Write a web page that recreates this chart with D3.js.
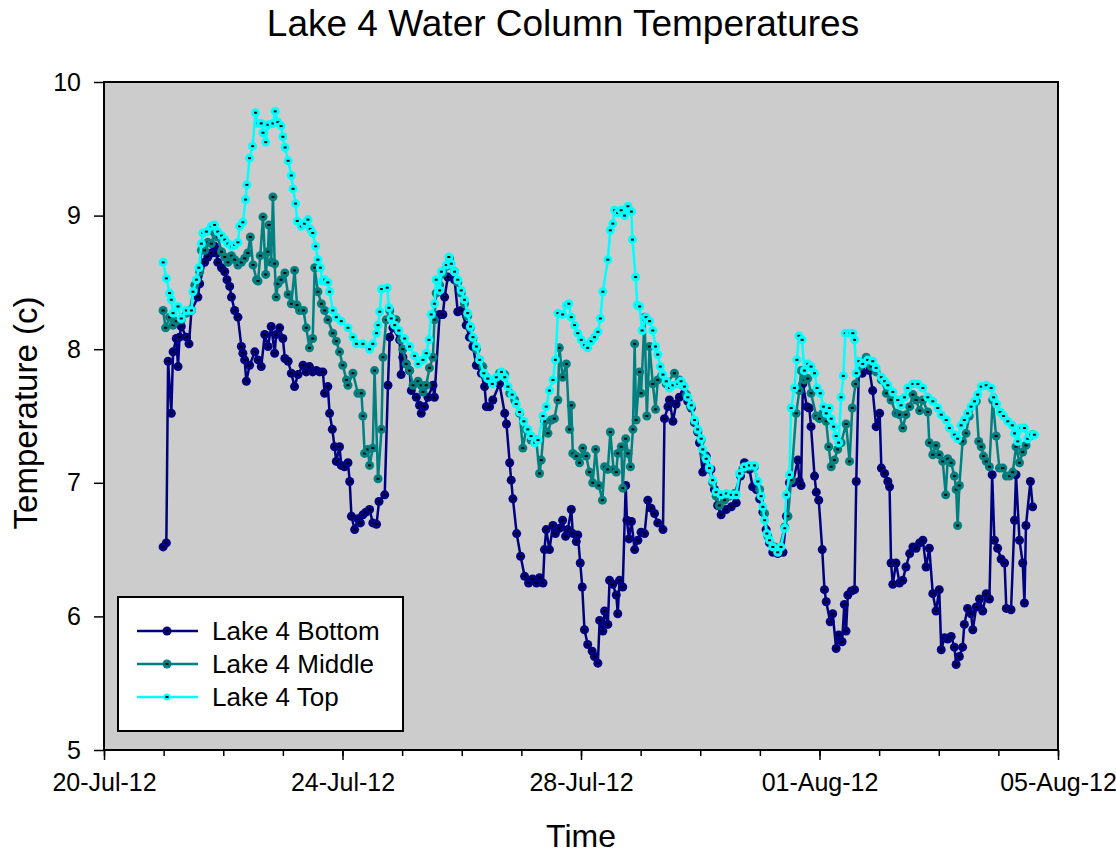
<!DOCTYPE html>
<html>
<head>
<meta charset="utf-8">
<script src="https://cdn.jsdelivr.net/npm/d3@7"></script>
<style>
  body { margin: 0; background: #fff; }
  text { font-family: "Liberation Sans", Arial, sans-serif; fill: #000; }
</style>
</head>
<body>
<div id="chart"></div>
<script>
// hours after 20-Jul-12 00:00, temperature (c)
var bottomSeries = [[23.8,6.52],[25.1,6.55],[25.8,7.91],[27.1,7.52],[27.8,7.98],[29.1,8.08],[29.8,7.87],[30.4,8.09],[31.1,8.17],[33.2,8.09],[34.2,8.04],[35.2,8.29],[37.8,8.39],[38.5,8.49],[40.5,8.65],[41.8,8.69],[43.2,8.72],[44.5,8.77],[45.4,8.72],[45.8,8.65],[47.3,8.61],[48.6,8.58],[49.5,8.52],[50.6,8.47],[51.3,8.39],[52.6,8.29],[53.9,8.24],[55.3,8.02],[55.9,7.97],[56.6,7.92],[57.3,7.76],[58.6,7.88],[60.7,7.98],[62.0,7.92],[63.3,7.87],[64.7,8.11],[66.0,8.02],[67.3,8.17],[68.7,7.97],[69.3,8.11],[70.7,8.16],[72.0,8.08],[72.8,7.93],[74.1,7.91],[75.4,7.82],[76.7,7.72],[78.1,7.81],[80.1,7.88],[81.4,7.83],[82.7,7.87],[84.0,7.83],[85.5,7.84],[86.8,7.83],[88.1,7.83],[88.8,7.67],[90.1,7.72],[90.8,7.52],[91.9,7.40],[92.8,7.27],[93.5,7.16],[94.8,7.27],[95.5,7.13],[96.8,7.12],[98.2,7.15],[98.9,7.01],[99.6,6.75],[100.9,6.65],[102.2,6.73],[103.2,6.70],[104.2,6.76],[105.4,6.78],[106.9,6.80],[108.2,6.70],[109.7,6.69],[110.7,6.86],[113.0,6.91],[114.3,7.73],[115.0,8.09],[116.3,8.16],[119.0,8.07],[119.6,7.81],[120.3,7.94],[121.6,7.89],[123.0,7.84],[123.7,7.69],[125.7,7.64],[127.0,7.58],[127.7,7.52],[129.0,7.57],[130.4,7.64],[132.4,7.73],[133.0,7.64],[135.1,8.26],[136.4,8.26],[137.1,8.39],[138.4,8.54],[141.1,8.52],[142.4,8.28],[143.8,8.29],[145.8,8.18],[147.1,8.09],[148.5,8.02],[149.9,7.88],[151.9,7.82],[153.2,7.72],[153.9,7.57],[155.2,7.57],[156.5,7.62],[159.2,7.74],[161.3,7.52],[162.0,7.44],[163.3,7.15],[163.9,7.02],[164.6,6.88],[166.1,6.62],[167.7,6.45],[169.3,6.30],[170.9,6.25],[172.5,6.28],[174.1,6.25],[175.3,6.29],[176.7,6.25],[177.3,6.50],[178.0,6.65],[179.3,6.50],[180.7,6.68],[181.7,6.62],[183.3,6.66],[184.6,6.72],[185.8,6.60],[186.7,6.65],[188.1,6.80],[188.7,6.62],[190.1,6.56],[190.7,6.61],[191.7,6.40],[192.5,6.22],[193.4,5.90],[194.7,5.79],[196.5,5.74],[197.4,5.70],[198.8,5.65],[199.5,5.97],[200.8,5.89],[201.5,6.04],[202.8,5.94],[203.5,6.27],[204.8,6.24],[206.2,6.16],[206.8,6.02],[207.5,6.27],[208.8,6.22],[210.0,6.98],[210.5,6.72],[211.3,6.58],[212.3,6.71],[213.6,6.50],[214.9,6.57],[216.2,6.63],[217.6,6.62],[218.9,6.87],[220.2,6.81],[221.6,6.77],[222.9,6.70],[225.0,6.65],[225.6,7.48],[227.0,7.57],[227.6,7.62],[229.0,7.46],[230.3,7.59],[231.6,7.64],[233.6,7.67],[235.0,7.61],[236.4,7.56],[237.7,7.45],[239.0,7.38],[239.7,7.30],[241.0,7.08],[242.4,7.20],[244.3,7.10],[245.7,6.95],[247.0,6.83],[248.4,6.76],[250.5,6.80],[252.5,6.82],[254.5,6.85],[256.2,7.05],[257.8,7.15],[259.8,7.10],[261.1,6.97],[262.6,6.95],[263.9,6.88],[265.2,6.78],[266.5,6.65],[267.9,6.55],[269.2,6.48],[271.2,6.47],[273.3,6.48],[274.7,6.75],[275.9,7.00],[277.3,7.00],[279.3,7.17],[279.9,7.01],[280.6,6.98],[281.3,7.74],[282.9,7.57],[283.9,7.56],[284.6,7.42],[286.0,7.05],[286.7,6.93],[287.7,6.87],[289.1,6.50],[290.0,6.20],[290.7,6.11],[292.3,5.96],[293.3,6.02],[294.7,5.76],[295.7,5.86],[297.1,5.81],[298.0,6.09],[298.7,5.89],[299.4,6.16],[300.8,6.19],[302.1,6.20],[302.8,7.01],[303.8,7.83],[305.2,7.82],[306.8,7.91],[308.1,7.84],[309.4,7.69],[310.8,7.42],[312.2,7.52],[312.9,7.11],[314.2,7.07],[315.5,7.01],[316.2,6.97],[316.8,6.40],[317.5,6.24],[318.8,6.40],[320.2,6.25],[321.5,6.27],[322.8,6.37],[324.3,6.47],[325.6,6.52],[326.9,6.51],[328.3,6.55],[329.6,6.57],[330.9,6.37],[332.2,6.51],[333.6,6.17],[334.9,6.04],[336.2,6.20],[337.0,5.75],[338.3,5.84],[339.6,5.83],[341.0,5.85],[342.3,5.77],[343.0,5.64],[344.3,5.70],[345.6,5.77],[346.3,5.94],[347.6,6.06],[349.0,6.02],[349.7,5.90],[351.1,6.07],[352.4,6.13],[353.7,6.04],[355.1,6.17],[356.4,6.13],[357.5,7.06],[358.4,6.57],[359.7,6.51],[361.1,6.43],[362.5,6.40],[363.2,6.06],[365.1,6.05],[366.5,6.72],[367.1,7.06],[368.5,6.57],[369.8,6.40],[370.5,6.10],[371.1,6.68],[372.9,7.01],[373.8,6.82]];

var middleSeries = [[23.8,8.29],[24.8,8.16],[26.4,8.24],[27.8,8.18],[29.1,8.21],[31.1,8.22],[33.2,8.27],[34.5,8.29],[36.5,8.48],[38.5,8.58],[39.2,8.74],[40.5,8.74],[41.8,8.80],[43.2,8.79],[44.5,8.87],[45.8,8.84],[47.3,8.73],[48.6,8.69],[49.9,8.65],[51.3,8.70],[52.6,8.67],[53.9,8.63],[55.3,8.65],[56.6,8.68],[57.9,8.72],[58.9,8.84],[60.0,8.63],[61.4,8.52],[62.0,8.51],[62.9,8.70],[64.0,8.99],[65.1,8.56],[66.0,8.73],[66.4,8.93],[67.3,8.65],[68.0,9.14],[68.7,8.64],[69.3,8.39],[70.0,8.49],[71.3,8.52],[72.8,8.57],[74.1,8.41],[75.4,8.34],[76.7,8.59],[77.7,8.33],[78.7,8.29],[80.3,8.29],[81.4,8.16],[82.7,8.01],[84.0,8.08],[84.8,8.61],[86.1,8.43],[87.5,8.34],[88.8,8.29],[90.1,8.22],[92.1,8.12],[93.5,8.06],[94.8,7.98],[96.1,7.88],[97.6,7.77],[98.2,7.73],[100.2,7.82],[102.2,7.67],[103.6,7.67],[104.2,7.50],[104.9,7.22],[106.2,7.25],[106.9,7.13],[108.2,7.26],[108.9,7.84],[110.3,7.03],[111.7,7.40],[112.3,7.94],[113.6,8.22],[115.0,8.29],[117.6,8.22],[119.6,8.07],[120.3,8.00],[121.6,7.89],[123.0,7.84],[124.4,7.73],[126.4,7.76],[127.7,7.73],[128.4,7.68],[129.7,7.73],[131.0,7.86],[132.4,7.94],[133.0,8.22],[133.7,8.42],[135.1,8.48],[136.4,8.57],[137.8,8.62],[139.1,8.68],[141.1,8.58],[142.4,8.50],[143.8,8.42],[145.1,8.34],[146.4,8.25],[147.5,8.16],[148.5,8.08],[149.9,8.00],[151.2,7.92],[152.5,7.87],[153.9,7.79],[156.5,7.76],[159.2,7.82],[161.3,7.81],[163.3,7.67],[165.3,7.62],[167.3,7.52],[168.6,7.26],[169.9,7.40],[171.9,7.32],[174.0,7.32],[175.3,7.07],[176.0,7.17],[177.3,7.46],[178.7,7.37],[180.0,7.47],[181.3,7.48],[182.7,7.62],[183.3,8.01],[184.6,7.79],[186.1,7.89],[187.4,7.40],[188.1,7.58],[188.7,7.22],[190.1,7.20],[191.4,7.15],[192.7,7.26],[194.1,7.20],[195.4,7.08],[196.7,7.00],[197.9,7.25],[199.2,6.98],[200.6,6.87],[201.5,7.12],[202.8,7.10],[203.8,7.38],[205.1,7.10],[206.2,7.08],[206.8,7.22],[208.2,7.27],[208.8,6.96],[210.0,7.33],[210.9,7.22],[211.9,7.12],[212.9,7.40],[213.6,8.04],[214.2,7.47],[215.6,7.83],[216.2,7.67],[217.6,8.24],[218.5,7.50],[219.6,8.02],[220.9,7.74],[222.0,7.55],[222.9,7.77],[224.4,7.80],[226.3,7.74],[229.6,7.82],[231.6,7.77],[233.0,7.73],[234.5,7.66],[236.1,7.57],[237.7,7.46],[239.0,7.39],[240.4,7.32],[241.7,7.20],[243.7,7.10],[245.0,7.00],[246.4,6.90],[247.7,6.83],[249.8,6.87],[251.8,6.90],[253.8,6.92],[257.1,7.10],[259.8,7.12],[261.8,7.12],[263.9,6.95],[265.9,6.77],[267.2,6.60],[269.9,6.52],[271.9,6.51],[274.0,6.67],[275.3,6.75],[276.6,7.02],[278.6,7.52],[279.9,7.69],[280.6,7.84],[281.9,7.77],[283.3,7.78],[284.6,7.67],[286.7,7.50],[288.0,7.48],[289.3,7.52],[290.7,7.46],[291.7,7.27],[292.7,7.12],[294.0,7.17],[295.3,7.25],[296.7,7.30],[298.7,7.44],[300.1,7.16],[301.2,7.56],[302.5,7.74],[304.1,7.87],[306.8,7.94],[308.8,7.87],[310.8,7.83],[312.9,7.77],[314.9,7.67],[316.8,7.62],[318.8,7.52],[320.2,7.51],[321.5,7.41],[322.8,7.51],[324.3,7.57],[325.6,7.66],[326.9,7.62],[328.3,7.54],[329.6,7.62],[331.6,7.53],[332.2,7.30],[333.6,7.21],[334.9,7.28],[336.2,7.21],[337.6,7.16],[338.8,6.91],[339.6,7.18],[341.0,7.15],[342.3,7.05],[343.0,6.95],[343.6,6.68],[344.3,6.98],[345.6,7.31],[347.0,7.37],[348.3,7.50],[351.1,7.61],[352.1,7.31],[353.1,7.27],[354.0,7.20],[355.1,7.16],[356.4,7.12],[357.7,7.62],[359.1,7.35],[360.4,7.11],[361.8,7.11],[363.2,7.05],[364.5,7.05],[365.8,7.08],[367.1,7.27],[368.5,7.15],[369.8,7.23],[371.1,7.28],[372.5,7.35],[373.8,7.36]];

var topSeries = [[23.8,8.65],[25.1,8.53],[26.4,8.42],[27.1,8.37],[27.8,8.27],[29.8,8.32],[31.1,8.23],[33.2,8.29],[35.2,8.29],[35.8,8.43],[37.2,8.52],[38.2,8.61],[39.2,8.79],[39.8,8.87],[41.2,8.88],[43.2,8.92],[44.5,8.93],[45.8,8.88],[47.3,8.85],[48.6,8.82],[49.9,8.79],[51.3,8.77],[52.6,8.78],[53.9,8.80],[54.6,8.92],[55.9,8.95],[57.0,9.12],[57.5,9.23],[58.6,9.43],[59.8,9.52],[61.0,9.77],[62.0,9.69],[63.3,9.69],[64.0,9.62],[65.1,9.55],[66.0,9.68],[68.0,9.69],[68.9,9.78],[70.0,9.70],[71.3,9.67],[72.0,9.59],[72.9,9.51],[74.1,9.41],[75.4,9.30],[76.1,9.20],[77.1,9.09],[77.8,8.96],[79.4,8.92],[80.7,8.94],[82.1,8.97],[83.0,8.90],[84.0,8.87],[85.2,8.77],[86.1,8.67],[87.1,8.61],[87.9,8.51],[88.8,8.52],[90.1,8.50],[90.8,8.43],[92.1,8.29],[93.5,8.24],[95.5,8.21],[98.2,8.16],[100.2,8.09],[101.6,8.04],[104.2,8.04],[106.9,8.00],[108.2,8.04],[109.7,8.12],[110.3,8.18],[111.0,8.28],[111.7,8.45],[114.0,8.46],[114.7,8.31],[115.6,8.23],[117.0,8.18],[118.7,8.14],[121.0,8.08],[123.0,8.02],[125.0,7.95],[126.4,7.89],[128.4,7.92],[129.7,7.97],[130.8,8.07],[131.7,8.26],[133.0,8.34],[133.7,8.52],[135.1,8.44],[135.8,8.58],[137.8,8.63],[138.8,8.69],[139.8,8.64],[141.1,8.58],[142.4,8.52],[143.8,8.44],[145.1,8.37],[146.4,8.27],[147.5,8.17],[148.5,8.09],[149.9,8.02],[151.2,7.92],[152.9,7.82],[154.5,7.78],[156.3,7.74],[157.9,7.79],[160.0,7.83],[161.3,7.79],[162.6,7.72],[164.3,7.66],[165.9,7.59],[167.3,7.53],[169.0,7.46],[170.6,7.40],[171.9,7.35],[173.4,7.30],[174.7,7.32],[176.7,7.50],[178.0,7.57],[179.3,7.69],[180.7,7.77],[181.7,7.92],[182.7,8.27],[184.6,8.26],[186.1,8.33],[187.1,8.34],[188.1,8.24],[189.4,8.18],[190.7,8.12],[192.1,8.07],[193.4,8.03],[194.7,8.01],[196.1,8.06],[197.4,8.09],[198.8,8.13],[199.8,8.23],[200.8,8.43],[202.8,8.67],[203.8,8.89],[204.8,8.94],[205.5,9.04],[206.8,9.02],[208.2,9.04],[209.5,9.00],[210.9,9.07],[212.3,9.03],[212.7,8.82],[214.0,8.54],[214.6,8.33],[215.6,8.32],[216.6,8.14],[218.2,8.24],[219.6,8.21],[220.9,8.14],[222.0,8.02],[222.9,7.96],[223.9,7.87],[225.0,7.81],[226.3,7.76],[227.6,7.71],[229.0,7.73],[231.0,7.74],[232.3,7.76],[233.6,7.72],[235.0,7.64],[236.4,7.58],[237.7,7.47],[239.0,7.40],[240.4,7.33],[241.0,7.25],[242.4,7.18],[243.7,7.11],[245.0,7.02],[246.4,6.93],[248.4,6.91],[250.5,6.92],[252.5,6.91],[254.5,6.91],[255.8,7.07],[257.8,7.12],[259.8,7.13],[261.8,7.13],[263.2,7.01],[264.5,6.90],[265.2,6.82],[265.9,6.72],[266.8,6.62],[267.9,6.57],[269.2,6.52],[271.2,6.48],[272.5,6.52],[274.0,6.66],[274.6,6.91],[275.9,7.06],[276.6,7.56],[277.9,7.71],[278.9,7.92],[279.7,8.10],[281.0,8.07],[281.9,7.84],[283.3,7.89],[284.6,7.87],[286.0,7.82],[287.0,7.71],[288.3,7.67],[289.6,7.57],[290.7,7.52],[292.0,7.56],[292.7,7.48],[293.7,7.42],[294.7,7.35],[295.7,7.30],[296.7,7.64],[297.6,7.80],[298.4,8.12],[300.1,8.12],[301.4,8.12],[302.1,8.07],[302.8,7.82],[303.8,7.91],[305.4,7.89],[307.4,7.92],[309.4,7.91],[310.8,7.86],[312.9,7.79],[314.2,7.76],[315.5,7.73],[317.5,7.68],[319.5,7.62],[320.8,7.58],[322.2,7.64],[323.5,7.71],[325.6,7.74],[327.6,7.74],[329.6,7.71],[331.6,7.64],[333.6,7.61],[335.6,7.56],[337.0,7.51],[339.0,7.47],[340.3,7.41],[342.3,7.36],[343.6,7.33],[345.0,7.43],[346.3,7.47],[347.6,7.52],[349.0,7.57],[350.4,7.61],[351.7,7.66],[353.1,7.72],[355.1,7.73],[357.1,7.71],[358.1,7.64],[359.3,7.59],[360.7,7.53],[362.1,7.50],[363.8,7.46],[365.6,7.43],[366.5,7.37],[367.8,7.31],[369.1,7.41],[370.5,7.41],[371.8,7.33],[373.1,7.36],[374.5,7.36]];

var seriesNames = ["Lake 4 Bottom", "Lake 4 Middle", "Lake 4 Top"];
var seriesColors = ["#000080", "#008080", "#00ffff"];
var yTicks = [5, 6, 7, 8, 9, 10];

function drawChart() {
    var width = 1116, height = 857;
    var plotLeft = 104, plotRight = 1058, plotTop = 82, plotBottom = 750;
    var start = new Date(2012, 6, 20), end = new Date(2012, 7, 5);
    var font = "Liberation Sans, Arial, sans-serif";

    var svg = d3.select("#chart").append("svg")
        .attr("width", width)
        .attr("height", height);

    var x = d3.scaleTime().domain([start, end]).range([plotLeft, plotRight]);
    var y = d3.scaleLinear().domain([5, 10]).range([plotBottom, plotTop]);

    function toDate(h) {
        return new Date(start.getTime() + h * 3600 * 1000);
    }

    // plot background
    svg.append("rect")
        .attr("x", plotLeft).attr("y", plotTop)
        .attr("width", plotRight - plotLeft).attr("height", plotBottom - plotTop)
        .attr("fill", "#cccccc");

    // axes: minor ticks every day, labelled ticks every 4 days
    var allDays = d3.timeDay.range(start, d3.timeDay.offset(end, 1));
    var majorDays = allDays.filter(function(d, i) { return i % 4 == 0; });

    var xMinor = svg.append("g")
        .attr("transform", "translate(0," + plotBottom + ")")
        .call(d3.axisBottom(x).tickValues(allDays).tickSize(6).tickFormat(""));
    xMinor.select(".domain").remove();
    xMinor.selectAll("line").attr("stroke-width", 1.5);

    var xAxis = svg.append("g")
        .attr("transform", "translate(0," + plotBottom + ")")
        .call(d3.axisBottom(x).tickValues(majorDays).tickSize(10).tickPadding(13)
            .tickFormat(d3.timeFormat("%d-%b-%y")));
    xAxis.select(".domain").remove();
    xAxis.selectAll("line").attr("stroke-width", 1.5);
    xAxis.selectAll("text").style("font-size", "25px").style("font-family", font);

    var yAxis = svg.append("g")
        .attr("transform", "translate(" + plotLeft + ",0)")
        .call(d3.axisLeft(y).tickValues(yTicks).tickSize(10).tickPadding(13)
            .tickFormat(d3.format("d")));
    yAxis.select(".domain").remove();
    yAxis.selectAll("line").attr("stroke-width", 1.5);
    yAxis.selectAll("text").style("font-size", "25px").style("font-family", font);

    // series, bottom first so top sits above
    var line = d3.line()
        .x(function(d) { return x(toDate(d[0])); })
        .y(function(d) { return y(d[1]); });

    var allSeries = [bottomSeries, middleSeries, topSeries];

    allSeries.forEach(function(data, i) {
        var g = svg.append("g");
        g.append("path")
            .datum(data)
            .attr("d", line)
            .attr("fill", "none")
            .attr("stroke", seriesColors[i])
            .attr("stroke-width", 2.5);
        var pts = g.selectAll(".pt").data(data).enter().append("g");
        pts.append("circle")
            .attr("cx", function(d) { return x(toDate(d[0])); })
            .attr("cy", function(d) { return y(d[1]); })
            .attr("r", 4.5)
            .attr("fill", seriesColors[i]);
        pts.append("rect")
            .attr("x", function(d) { return x(toDate(d[0])) - 1.5; })
            .attr("y", function(d) { return y(d[1]) - 1; })
            .attr("width", 3)
            .attr("height", 2)
            .attr("fill", "#000");
    });

    // frame
    svg.append("rect")
        .attr("x", plotLeft).attr("y", plotTop)
        .attr("width", plotRight - plotLeft).attr("height", plotBottom - plotTop)
        .attr("fill", "none")
        .attr("stroke", "#000")
        .attr("stroke-width", 2);

    // legend
    var legend = svg.append("g");
    legend.append("rect")
        .attr("x", 118).attr("y", 597)
        .attr("width", 285).attr("height", 134)
        .attr("fill", "#fff")
        .attr("stroke", "#000")
        .attr("stroke-width", 2);
    seriesNames.forEach(function(name, i) {
        var ly = 631 + i * 33;
        legend.append("line")
            .attr("x1", 137).attr("x2", 198)
            .attr("y1", ly).attr("y2", ly)
            .attr("stroke", seriesColors[i])
            .attr("stroke-width", 2.5);
        legend.append("circle")
            .attr("cx", 167).attr("cy", ly)
            .attr("r", i == 2 ? 3.5 : 4.5)
            .attr("fill", seriesColors[i]);
        legend.append("rect")
            .attr("x", 165.5).attr("y", ly - 1)
            .attr("width", 3).attr("height", 2)
            .attr("fill", "#000");
        legend.append("text")
            .attr("x", 212).attr("y", ly + 9)
            .style("font-size", "26px")
            .text(name);
    });

    // titles
    svg.append("text")
        .attr("x", 563).attr("y", 36)
        .attr("text-anchor", "middle")
        .style("font-size", "37px")
        .text("Lake 4 Water Column Temperatures");

    svg.append("text")
        .attr("transform", "translate(37,413) rotate(-90)")
        .attr("text-anchor", "middle")
        .style("font-size", "33px")
        .text("Temperature (c)");

    svg.append("text")
        .attr("x", 581).attr("y", 847)
        .attr("text-anchor", "middle")
        .style("font-size", "32px")
        .text("Time");
}

drawChart();
</script>
</body>
</html>
